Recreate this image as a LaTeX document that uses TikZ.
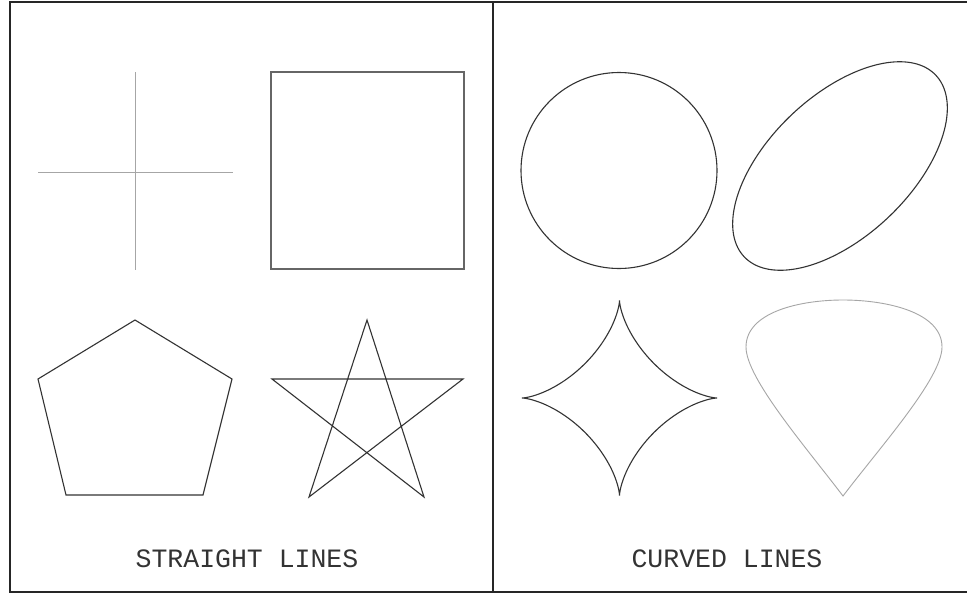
\documentclass[tikz,border=0pt]{standalone}
\usepackage{fontspec}
\setmonofont{Liberation Mono}
\begin{document}
\begin{tikzpicture}[x=1pt,y=-1pt,
  frame/.style={draw=black!85,line width=1.4pt},
  outline/.style={draw=black!80,line width=1.1pt,line join=miter},
  faint/.style={draw=black!35,line width=0.9pt},
  midgray/.style={draw=black!60,line width=1.2pt},
  label/.style={font=\ttfamily\fontsize{26.5}{26.5}\selectfont,text=black!80,inner sep=0pt}]
\useasboundingbox (0,0) rectangle (967,595);
\clip (0,0) rectangle (967,595);
\fill[white] (0,0) rectangle (967,595);
% frame
\draw[frame] (10,2) rectangle (975,592);
\draw[frame] (493,2) -- (493,592);
% cross
\draw[faint] (135,72) -- (135,270);
\draw[faint] (38,172) -- (233,172);
% square
\draw[midgray] (271,72) rectangle (464,269);
% pentagon
\draw[outline] (135,320) -- (232,379) -- (203,495) -- (66,495) -- (38,379) -- cycle;
% star
\draw[outline] (367,320) -- (309,497) -- (463,379) -- (272,379) -- (424,497) -- cycle;
% circle
\draw[outline] (619,170.5) circle[radius=98];
% ellipse
\draw[outline] plot[domain=0:360,samples=180,smooth cycle]
  ({840+132*cos(\x)*cos(43.5)-70.5*sin(\x)*sin(43.5)},
   {166-(132*cos(\x)*sin(43.5)+70.5*sin(\x)*cos(43.5))});
% astroid
\draw[outline] plot[domain=0:360,samples=241]
  ({619.5+97.5*cos(\x)*cos(\x)*cos(\x)},{398+97.5*sin(\x)*sin(\x)*sin(\x)});
% teardrop
\draw[faint] (843,496) .. controls (805,446) and (746,378) .. (746,347)
  .. controls (746,312) and (800,300) .. (843,300)
  .. controls (886,300) and (942,312) .. (942,347)
  .. controls (942,378) and (881,446) .. (843,496) -- cycle;
% labels
\node[label] (straight) at (247,559) {STRAIGHT LINES};
\node[label] (curved) at (727,559) {CURVED LINES};
\end{tikzpicture}
\end{document}
